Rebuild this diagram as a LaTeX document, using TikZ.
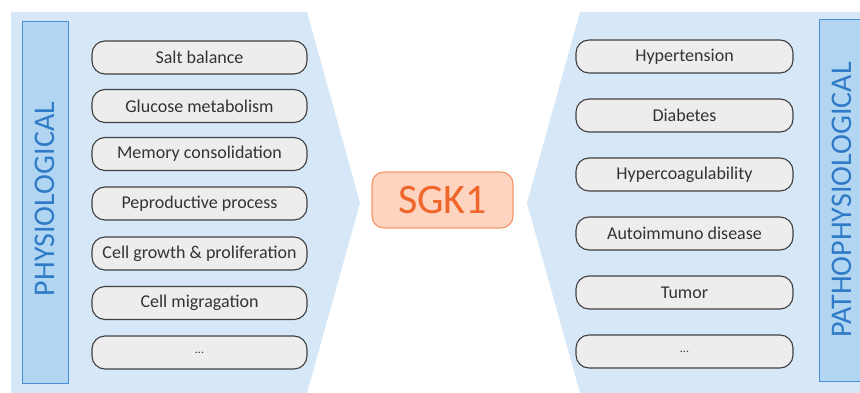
\documentclass[tikz,border=0pt]{standalone}
\usepackage{fontspec}
\setmainfont{Carlito}
\definecolor{bgblue}{HTML}{D6E8F7}
\definecolor{labfill}{HTML}{B2D6F2}
\definecolor{labdraw}{HTML}{4A8FD3}
\definecolor{labtext}{HTML}{2F7BC8}
\definecolor{pillfill}{HTML}{EDEDED}
\definecolor{pilldraw}{HTML}{404040}
\definecolor{pilltext}{HTML}{333333}
\definecolor{sgkfill}{HTML}{FCD4BF}
\definecolor{sgkdraw}{HTML}{F29A6A}
\definecolor{sgktext}{HTML}{F0652A}
\begin{document}
\begin{tikzpicture}[x=1pt,y=-1pt,
  pill/.style={draw=pilldraw,line width=1.1pt,fill=pillfill,rounded corners=13pt,
    minimum height=33pt,inner sep=0pt,font=\fontsize{18}{20}\selectfont,text=pilltext},
  lpill/.style={pill,minimum width=215pt},
  rpill/.style={pill,minimum width=217pt},
  labbox/.style={draw=labdraw,line width=1pt,fill=labfill},
  labtxt/.style={rotate=90,font=\fontsize{30}{32}\selectfont,text=labtext,inner sep=0pt},
  bgshape/.style={fill=bgblue,draw=none}]
\useasboundingbox (0,0) rectangle (860,393);
\fill[white] (0,0) rectangle (860,393);
% backgrounds
\path[bgshape] (11,12) -- (307,12) -- (360,203) -- (307,393) -- (11,393) -- cycle;
\path[bgshape] (580,12) -- (860,12) -- (860,393) -- (580,393) -- (527,203) -- cycle;
% label boxes
\draw[labbox] (22,22) rectangle (68,383);
\node[labtxt] (phys) at (45,199) {PHYSIOLOGICAL};
\draw[labbox] (819,20) -- (861,20) (861,381) -- (819,381) -- (819,20);
\fill[labfill] (819.5,20.5) rectangle (860,380.5);
\node[labtxt] (patho) at (842,200) {PATHOPHYSIOLOGICAL};
% left pills
\node[lpill] (l1) at (199.5,57.5) {Salt balance};
\node[lpill] (l2) at (199.5,106) {Glucose metabolism};
\node[lpill] (l3) at (199.5,154) {Memory consolidation};
\node[lpill] (l4) at (199.5,203.5) {Peproductive process};
\node[lpill] (l5) at (199.5,253.5) {Cell growth \& proliferation};
\node[lpill] (l6) at (199.5,303) {Cell migragation};
\node[lpill] (l7) at (199.5,352.5) {\fontsize{12}{14}\selectfont ...};
% right pills
\node[rpill] (r1) at (684.5,56.5) {Hypertension};
\node[rpill] (r2) at (684.5,115.5) {Diabetes};
\node[rpill] (r3) at (684.5,174.5) {Hypercoagulability};
\node[rpill] (r4) at (684.5,233.5) {Autoimmuno disease};
\node[rpill] (r5) at (684.5,292.5) {Tumor};
\node[rpill] (r6) at (684.5,351.5) {\fontsize{12}{14}\selectfont ...};
% center
\node[draw=sgkdraw,line width=1.2pt,fill=sgkfill,rounded corners=12pt,
  minimum width=141pt,minimum height=56pt,inner sep=0pt,
  font=\fontsize{42}{44}\selectfont,text=sgktext] (sgk) at (442.5,200) {SGK1};
\end{tikzpicture}
\end{document}
